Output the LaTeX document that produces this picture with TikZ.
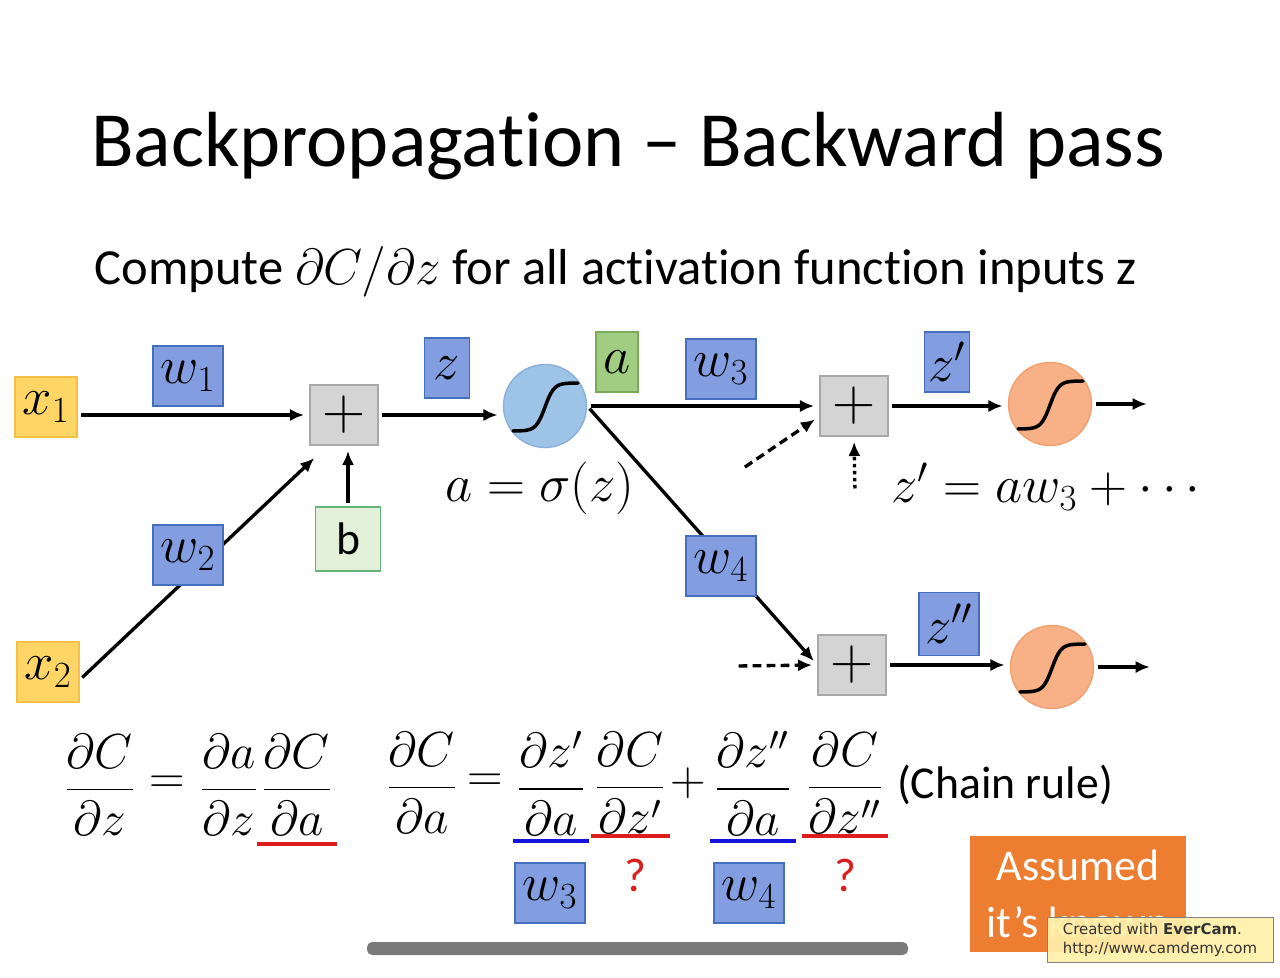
\RequirePackage{fix-cm}
\documentclass[tikz,border=0pt]{standalone}
\usepackage{amsmath}
\usepackage[no-math]{fontspec}
\setmainfont{Carlito}[Ligatures=NoCommon]
\newfontfamily\stampfont{DejaVu Sans}
\usetikzlibrary{arrows.meta,positioning,calc}

\definecolor{inyellow}{RGB}{255,214,102}
\definecolor{inyellowline}{RGB}{245,190,70}
\definecolor{wblue}{RGB}{130,158,224}
\definecolor{wblueline}{RGB}{70,110,190}
\definecolor{plusgray}{RGB}{212,212,212}
\definecolor{plusline}{RGB}{168,168,168}
\definecolor{bgreen}{RGB}{226,240,217}
\definecolor{bgreenline}{RGB}{100,180,120}
\definecolor{agreen}{RGB}{160,205,130}
\definecolor{agreenline}{RGB}{120,170,90}
\definecolor{sigblue}{RGB}{157,195,230}
\definecolor{sigblueline}{RGB}{140,175,220}
\definecolor{sigorange}{RGB}{248,176,135}
\definecolor{sigorangeline}{RGB}{240,160,110}
\definecolor{knownorange}{RGB}{237,125,49}
\definecolor{markred}{RGB}{220,30,30}
\definecolor{markblue}{RGB}{20,20,220}
\definecolor{stampyellow}{RGB}{255,240,170}

\newcommand\boxfont{\fontsize{30}{36}\selectfont}
\newcommand\eqfont{\fontsize{28}{32}\selectfont}

\begin{document}
\begin{tikzpicture}[
    x=0.02cm, y=-0.02cm,
    every node/.style={inner sep=0pt},
    inbox/.style={draw=inyellowline, fill=inyellow, line width=0.8pt,
      minimum width=1.24cm, minimum height=1.2cm, font=\boxfont},
    wbox/.style={draw=wblueline, fill=wblue, line width=0.8pt,
      minimum width=1.4cm, minimum height=1.2cm, font=\boxfont},
    zbox/.style={wbox, minimum width=0.9cm},
    plusbox/.style={draw=plusline, fill=plusgray, line width=0.8pt,
      minimum width=1.36cm, minimum height=1.2cm, font=\fontsize{34}{40}\selectfont},
    neuron/.style={circle, line width=0.8pt, minimum size=1.66cm},
    wire/.style={line width=1.9pt, -{Latex[length=8pt,width=7pt]},
      shorten <=2pt, shorten >=3pt},
    sig/.style={line width=2pt, line cap=round},
    frac/.style={font=\eqfont},
    uline/.style={line width=2.4pt},
    ]
    \useasboundingbox (0,0) rectangle (1280,977);
    \fill[white] (0,0) rectangle (1280,977);

    \node[font=\fontsize{44.5}{52}\selectfont] (title) at (628,146) {Backpropagation – Backward pass};
    \node[font=\fontsize{28.8}{34}\selectfont] (task) at (616,272) {Compute $\partial C/\partial z$ for all activation function inputs z};

    \node[inbox] (x1) at (46,407) {$x_1$};
    \node[inbox] (x2) at (48,672) {$x_2$};
    \node[plusbox] (p1) at (344,415) {$+$};
    \node[draw=bgreenline, fill=bgreen, line width=0.8pt, minimum width=1.3cm,
      minimum height=1.28cm, font=\fontsize{26}{30}\selectfont] (b) at (348,539) {b};
    \node[neuron, draw=sigblueline, fill=sigblue] (s1) at (545,406) {};
    \node[plusbox] (p2) at (854,406) {$+$};
    \node[neuron, draw=sigorangeline, fill=sigorange] (s2) at (1050,404) {};
    \node[plusbox] (p3) at (852,665) {$+$};
    \node[neuron, draw=sigorangeline, fill=sigorange] (s3) at (1052,667) {};
    \coordinate (o1) at (1152,404);
    \coordinate (o2) at (1155,667);
    \coordinate (d1) at (742,469);
    \coordinate (d2) at (855,492);
    \coordinate (d3) at (735,666);

    \draw[wire] (x1.east |- p1.west) -- (p1.west);
    \draw[wire] ([yshift=-4.5pt]x2.east) -- ([xshift=5pt,yshift=-5pt]p1.south west);
    \draw[wire] (b.north) -- (b.north |- p1.south);
    \draw[wire] (p1.east) -- (p1.east -| s1.west);
    \draw[wire] (s1.east) -- (s1.east -| p2.west);
    \draw[wire] (s1.east) -- (p3.west);
    \draw[wire, dash pattern=on 5pt off 3pt] (d1) -- ([yshift=-6pt]p2.west);
    \draw[wire, dash pattern=on 2pt off 2pt] (d2) -- (p2.south);
    \draw[wire] (p2.east) -- (p2.east -| s2.west);
    \draw[wire] (s2.east) -- (o1);
    \draw[wire, dash pattern=on 5pt off 3pt] (d3) -- (p3.west);
    \draw[wire] (p3.east) -- (p3.east -| s3.west);
    \draw[wire] (s3.east) -- (o2);

    \foreach \s in {s1,s2,s3}
      \draw[sig, shift={(\s.center)}] plot[domain=-32:33, samples=40] (\x, {1-24*tanh(\x/9)});

    \node[wbox] (w1) at (188,376) {$w_1$};
    \node[wbox] (w2) at (188,555) {$w_2$};
    \node[zbox] (z) at (447,368) {$z$};
    \node[draw=agreenline, fill=agreen, line width=0.8pt, minimum width=0.84cm,
      minimum height=1.2cm, font=\boxfont] (a) at (617,362) {$a$};
    \node[wbox] (w3) at (721,369) {$w_3$};
    \node[wbox] (w4) at (721,566) {$w_4$};
    \node[zbox] (z1) at (947,362) {$z'$};
    \node[zbox, minimum width=1.2cm, minimum height=1.26cm] (z2) at (949,624) {$z''$};

    \node[font=\boxfont] (act) at (540,488) {$a=\sigma(z)$};
    \node[font=\boxfont] (sum) at (1050,487) {$z'=aw_3+\cdots$};

    \node[frac] (f1) at (100,785) {$\dfrac{\partial C}{\partial z}$};
    \node[frac] (e1) at (167,785) {$=$};
    \node[frac] (f2) at (229,785) {$\dfrac{\partial a}{\partial z}$};
    \node[frac] (f3) at (297,785) {$\dfrac{\partial C}{\partial a}$};
    \node[frac] (f4) at (422,783) {$\dfrac{\partial C}{\partial a}$};
    \node[frac] (e2) at (485,783) {$=$};
    \node[frac] (f5) at (551,783) {$\dfrac{\partial z'}{\partial a}$};
    \node[frac] (f6) at (630,783) {$\dfrac{\partial C}{\partial z'}$};
    \node[frac] (e3) at (688,783) {$+$};
    \node[frac] (f7) at (753,783) {$\dfrac{\partial z''}{\partial a}$};
    \node[frac] (f8) at (845,783) {$\dfrac{\partial C}{\partial z''}$};
    \node[font=\fontsize{26}{30}\selectfont] (rule) at (1005,785) {(Chain rule)};

    \draw[uline, markred] ($(f3.south west)+(-4,8)$) -- ($(f3.south east)+(4,8)$);
    \draw[uline, markblue] ($(f5.south west)+(-4,6)$) -- ($(f5.south east)+(4,6)$);
    \draw[uline, markred] ($(f6.south west)+(-4,2)$) -- ($(f6.south east)+(4,2)$);
    \draw[uline, markblue] ($(f7.south west)+(-4,6)$) -- ($(f7.south east)+(4,6)$);
    \draw[uline, markred] ($(f8.south west)+(-4,2)$) -- ($(f8.south east)+(4,2)$);

    \node[wbox] (w3b) at (550,893) {$w_3$};
    \node[wbox] (w4b) at (749,893) {$w_4$};
    \node[text=markred, font=\fontsize{27}{30}\selectfont] (q1) at (635,875) {?};
    \node[text=markred, font=\fontsize{27}{30}\selectfont] (q2) at (845,875) {?};

    \node[fill=knownorange, minimum width=4.34cm, minimum height=2.32cm,
      text=white, align=center, font=\fontsize{25}{32}\selectfont] (known) at (1078,894)
      {Assumed\\it’s known};
    \node[draw=gray, fill=stampyellow, fill opacity=0.92, text opacity=1,
      minimum width=4.52cm, minimum height=0.9cm, align=left, inner xsep=8pt,
      font=\stampfont\fontsize{8.5}{11}\selectfont, text=black!80] (stamp) at (1160,940)
      {Created with \textbf{EverCam}.\\http://www.camdemy.com};
    \fill[black!52, rounded corners=3pt] (367,942) rectangle (908,955);
\end{tikzpicture}
\end{document}
